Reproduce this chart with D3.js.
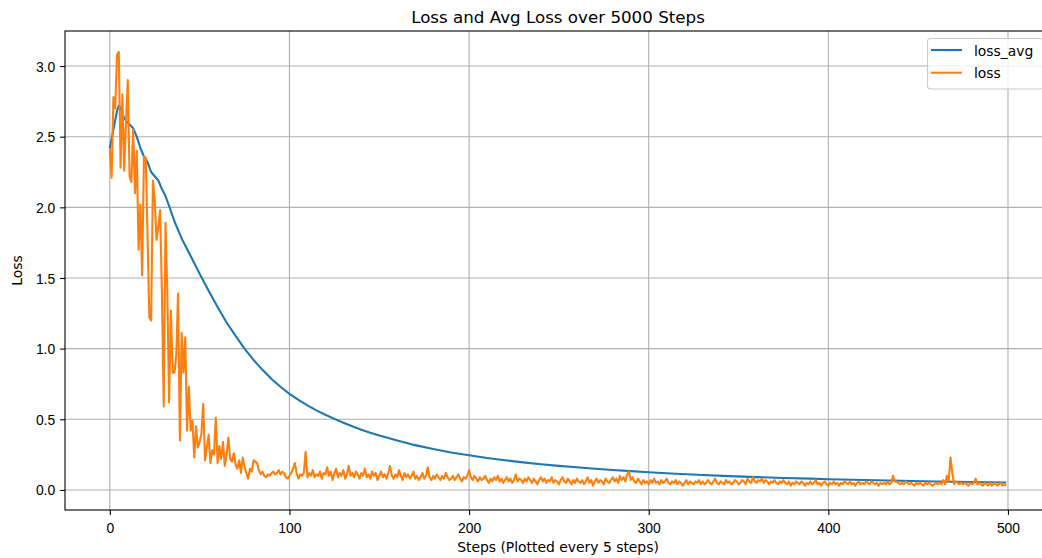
<!DOCTYPE html>
<html>
<head>
<meta charset="utf-8">
<script src="https://cdn.jsdelivr.net/npm/d3@7"></script>
<style>
  body { margin: 0; background: #fff; }
  svg { display: block; font-family: "DejaVu Sans", sans-serif; }
  .tick text { font-size: 13.9px; fill: #000; }
  .domain { display: none; }
</style>
</head>
<body>
<div class="panel"></div>
<script>
const width = 1042;
const height = 558;
const box = {left: 65, right: 1051, top: 31, bottom: 510};

// loss, one value per plotted point (every 5 steps)
const loss = [
  2.42, 2.21, 2.78, 2.70, 3.08, 3.10, 2.28, 2.80, 2.26, 2.60,
  2.90, 2.22, 2.18, 2.55, 2.10, 2.40, 1.70, 2.02, 1.52, 2.36,
  2.35, 1.80, 1.22, 1.20, 2.19, 2.05, 1.77, 1.86, 1.98, 1.40,
  0.59, 1.89, 1.41, 0.62, 1.27, 0.83, 0.83, 0.95, 1.39, 0.35,
  1.11, 0.83, 1.08, 0.42, 0.73, 0.42, 0.49, 0.23, 0.45, 0.30,
  0.34, 0.40, 0.61, 0.21, 0.30, 0.39, 0.19, 0.28, 0.25, 0.51,
  0.19, 0.31, 0.22, 0.34, 0.17, 0.25, 0.37, 0.22, 0.20, 0.26,
  0.18, 0.15, 0.21, 0.12, 0.23, 0.16, 0.12, 0.08, 0.15, 0.13,
  0.21, 0.20, 0.19, 0.14, 0.11, 0.13, 0.10, 0.09, 0.11, 0.10,
  0.12, 0.13, 0.11, 0.12, 0.14, 0.11, 0.13, 0.12, 0.09, 0.08,
  0.10, 0.12, 0.15, 0.19, 0.12, 0.08, 0.11, 0.10, 0.12, 0.27,
  0.09, 0.12, 0.10, 0.14, 0.09, 0.11, 0.10, 0.13, 0.08, 0.12,
  0.11, 0.16, 0.10, 0.13, 0.07, 0.12, 0.15, 0.09, 0.12, 0.10,
  0.14, 0.08, 0.11, 0.17, 0.10, 0.12, 0.09, 0.13, 0.11, 0.08,
  0.12, 0.10, 0.15, 0.09, 0.11, 0.08, 0.13, 0.10, 0.12, 0.07,
  0.10, 0.13, 0.09, 0.11, 0.08, 0.12, 0.17, 0.10, 0.08, 0.11,
  0.09, 0.14, 0.10, 0.07, 0.12, 0.09, 0.11, 0.08, 0.10, 0.13,
  0.08, 0.10, 0.07, 0.09, 0.12, 0.08, 0.10, 0.16, 0.09, 0.07,
  0.10, 0.08, 0.11, 0.09, 0.07, 0.10, 0.08, 0.12, 0.09, 0.07,
  0.08, 0.10, 0.07, 0.09, 0.11, 0.08, 0.06, 0.09, 0.08, 0.10,
  0.14, 0.09, 0.07, 0.10, 0.08, 0.06, 0.09, 0.07, 0.08, 0.10,
  0.07, 0.05, 0.08, 0.06, 0.09, 0.07, 0.10, 0.06, 0.08, 0.05,
  0.07, 0.09, 0.06, 0.08, 0.05, 0.07, 0.11, 0.06, 0.08, 0.07,
  0.05, 0.08, 0.06, 0.09, 0.07, 0.05, 0.08, 0.06, 0.04, 0.07,
  0.09, 0.06, 0.08, 0.05, 0.07, 0.06, 0.09, 0.05, 0.07, 0.06,
  0.04, 0.07, 0.09, 0.06, 0.05, 0.08, 0.06, 0.04, 0.07, 0.05,
  0.08, 0.06, 0.05, 0.07, 0.04, 0.06, 0.09, 0.05, 0.07, 0.03,
  0.06, 0.08, 0.05, 0.07, 0.06, 0.04, 0.08, 0.06, 0.05, 0.07,
  0.09, 0.06, 0.08, 0.05, 0.10, 0.07, 0.09, 0.06, 0.11, 0.13,
  0.07, 0.09, 0.06, 0.05, 0.08, 0.06, 0.04, 0.07, 0.05, 0.06,
  0.04, 0.07, 0.05, 0.08, 0.05, 0.06, 0.04, 0.07, 0.05, 0.06,
  0.08, 0.05, 0.04, 0.06, 0.05, 0.07, 0.04, 0.06, 0.05, 0.03,
  0.05, 0.07, 0.04, 0.06, 0.05, 0.04, 0.06, 0.05, 0.07, 0.04,
  0.06, 0.04, 0.05, 0.07, 0.05, 0.04, 0.06, 0.08, 0.05, 0.04,
  0.06, 0.05, 0.04, 0.07, 0.05, 0.06, 0.04, 0.05, 0.07, 0.06,
  0.04, 0.05, 0.07, 0.06, 0.04, 0.08, 0.06, 0.05, 0.09, 0.06,
  0.05, 0.07, 0.06, 0.08, 0.05, 0.07, 0.06, 0.04, 0.06, 0.05,
  0.07, 0.05, 0.04, 0.06, 0.05, 0.07, 0.05, 0.04, 0.06, 0.03,
  0.05, 0.04, 0.06, 0.05, 0.04, 0.06, 0.05, 0.03, 0.05, 0.04,
  0.06, 0.04, 0.05, 0.07, 0.04, 0.05, 0.03, 0.05, 0.06, 0.04,
  0.03, 0.05, 0.04, 0.06, 0.04, 0.05, 0.03, 0.05, 0.04, 0.06,
  0.05, 0.04, 0.06, 0.04, 0.05, 0.03, 0.05, 0.06, 0.04, 0.05,
  0.04, 0.06, 0.05, 0.04, 0.06, 0.05, 0.04, 0.05, 0.03, 0.05,
  0.04, 0.05, 0.04, 0.06, 0.04, 0.05, 0.10, 0.06, 0.06, 0.05,
  0.04, 0.05, 0.04, 0.06, 0.05, 0.04, 0.05, 0.04, 0.03, 0.05,
  0.04, 0.05, 0.04, 0.03, 0.05, 0.04, 0.05, 0.04, 0.03, 0.04,
  0.05, 0.04, 0.05, 0.04, 0.07, 0.04, 0.10, 0.06, 0.23, 0.12,
  0.04, 0.06, 0.05, 0.04, 0.05, 0.04, 0.05, 0.04, 0.03, 0.05,
  0.04, 0.05, 0.08, 0.04, 0.05, 0.04, 0.03, 0.05, 0.04, 0.03,
  0.05, 0.03, 0.04, 0.05, 0.03, 0.04, 0.05, 0.03, 0.04, 0.03
];

// loss_avg is smooth, so it is read at these plotted points only
const avgSteps = [0, 2, 4, 5, 6, 8, 10, 13, 15, 17, 19, 21, 23, 25, 27, 29, 31, 33, 36, 40,
  45, 50, 55, 60, 65, 70, 75, 80, 85, 90, 95, 100, 105, 110, 115, 120, 125, 130, 135, 140,
  145, 150, 160, 170, 180, 190, 200, 210, 220, 230, 240, 250, 260, 270, 280, 290, 300, 315,
  330, 345, 360, 375, 390, 400, 420, 440, 460, 480, 499];
const lossAvg = [2.42, 2.55, 2.68, 2.72, 2.70, 2.63, 2.60, 2.56, 2.50, 2.42, 2.36, 2.32, 2.25, 2.22, 2.19, 2.13, 2.08, 2.01, 1.90, 1.78,
  1.655, 1.53, 1.41, 1.295, 1.185, 1.09, 1.00, 0.92, 0.85, 0.785, 0.73, 0.68, 0.637, 0.598, 0.563, 0.532, 0.503, 0.475, 0.45, 0.426,
  0.405, 0.385, 0.35, 0.317, 0.29, 0.265, 0.245, 0.226, 0.21, 0.195, 0.182, 0.17, 0.16, 0.15, 0.141, 0.133, 0.125, 0.115,
  0.106, 0.098, 0.091, 0.085, 0.08, 0.076, 0.07, 0.065, 0.06, 0.056, 0.053];

const xTicks = [0, 100, 200, 300, 400, 500];
const yTicks = [0.0, 0.5, 1.0, 1.5, 2.0, 2.5, 3.0];
const seriesNames = ["loss_avg", "loss"];
const colours = ["#1f77b4", "#ff7f0e"];

const svg = d3.select(".panel")
  .append("svg")
  .attr("width", width)
  .attr("height", height);

const xScale = d3.scaleLinear().domain([-24.95, 523.95]).range([box.left, box.right]);
const yScale = d3.scaleLinear().domain([-0.142, 3.248]).range([box.bottom, box.top]);

// grid
const grid = svg.append("g");
grid.selectAll(".vgrid")
  .data(xTicks)
  .enter()
  .append("line")
  .attr("x1", d => xScale(d)).attr("x2", d => xScale(d))
  .attr("y1", box.top).attr("y2", box.bottom)
  .attr("stroke", "#b0b0b0").attr("stroke-width", 1.1);
grid.selectAll(".hgrid")
  .data(yTicks)
  .enter()
  .append("line")
  .attr("x1", box.left).attr("x2", box.right)
  .attr("y1", d => yScale(d)).attr("y2", d => yScale(d))
  .attr("stroke", "#b0b0b0").attr("stroke-width", 1.1);

svg.append("clipPath").attr("id", "clip")
  .append("rect")
  .attr("x", box.left).attr("y", box.top)
  .attr("width", box.right - box.left).attr("height", box.bottom - box.top);

const plot = svg.append("g").attr("clip-path", "url(#clip)");

const avgLine = d3.line().x((d, i) => xScale(avgSteps[i])).y(d => yScale(d));
const lossLine = d3.line().x((d, i) => xScale(i)).y(d => yScale(d));

plot.append("path")
  .attr("d", avgLine(lossAvg))
  .attr("fill", "none").attr("stroke", colours[0])
  .attr("stroke-width", 2.1).attr("stroke-linejoin", "round");

plot.append("path")
  .attr("d", lossLine(loss))
  .attr("fill", "none").attr("stroke", colours[1])
  .attr("stroke-width", 2.1).attr("stroke-linejoin", "round");

// axes
const xAxis = d3.axisBottom(xScale).tickValues(xTicks).tickFormat(d3.format("d"))
  .tickSize(4.9).tickPadding(4.9);
const gx = svg.append("g")
  .attr("transform", `translate(0, ${box.bottom})`)
  .call(xAxis);
gx.selectAll(".tick line").attr("stroke", "#000").attr("stroke-width", 1.1);
gx.selectAll(".tick text").attr("dy", null).attr("y", 22.5);

const yAxis = d3.axisLeft(yScale).tickValues(yTicks).tickFormat(d3.format(".1f"))
  .tickSize(4.9).tickPadding(4.9);
const gy = svg.append("g")
  .attr("transform", `translate(${box.left}, 0)`)
  .call(yAxis);
gy.selectAll(".tick line").attr("stroke", "#000").attr("stroke-width", 1.1);
gy.selectAll(".tick text").attr("dy", "0.36em");

// spines
svg.append("rect")
  .attr("x", box.left).attr("y", box.top)
  .attr("width", box.right - box.left).attr("height", box.bottom - box.top)
  .attr("fill", "none").attr("stroke", "#000").attr("stroke-width", 1.1);

// texts
svg.append("text")
  .attr("x", (box.left + box.right) / 2).attr("y", 22.5)
  .attr("text-anchor", "middle").attr("font-size", 16.7)
  .text("Loss and Avg Loss over 5000 Steps");

svg.append("text")
  .attr("x", (box.left + box.right) / 2).attr("y", 552)
  .attr("text-anchor", "middle").attr("font-size", 13.9)
  .text("Steps (Plotted every 5 steps)");

svg.append("text")
  .attr("transform", `translate(22, ${(box.top + box.bottom) / 2}) rotate(-90)`)
  .attr("text-anchor", "middle").attr("font-size", 13.9)
  .text("Loss");

// legend
const legend = svg.append("g");
legend.append("rect")
  .attr("x", 927.5).attr("y", 38.5).attr("width", 116).attr("height", 50.5)
  .attr("rx", 3).attr("fill", "#fff").attr("fill-opacity", 0.8)
  .attr("stroke", "#cccccc").attr("stroke-width", 1.1);
seriesNames.forEach((name, i) => {
  const ly = 50 + i * 22.7;
  legend.append("line")
    .attr("x1", 931).attr("x2", 962).attr("y1", ly).attr("y2", ly)
    .attr("stroke", colours[i]).attr("stroke-width", 2.1);
  legend.append("text")
    .attr("x", 974).attr("y", ly + 5.5)
    .attr("font-size", 13.9)
    .text(name);
});
</script>
</body>
</html>
